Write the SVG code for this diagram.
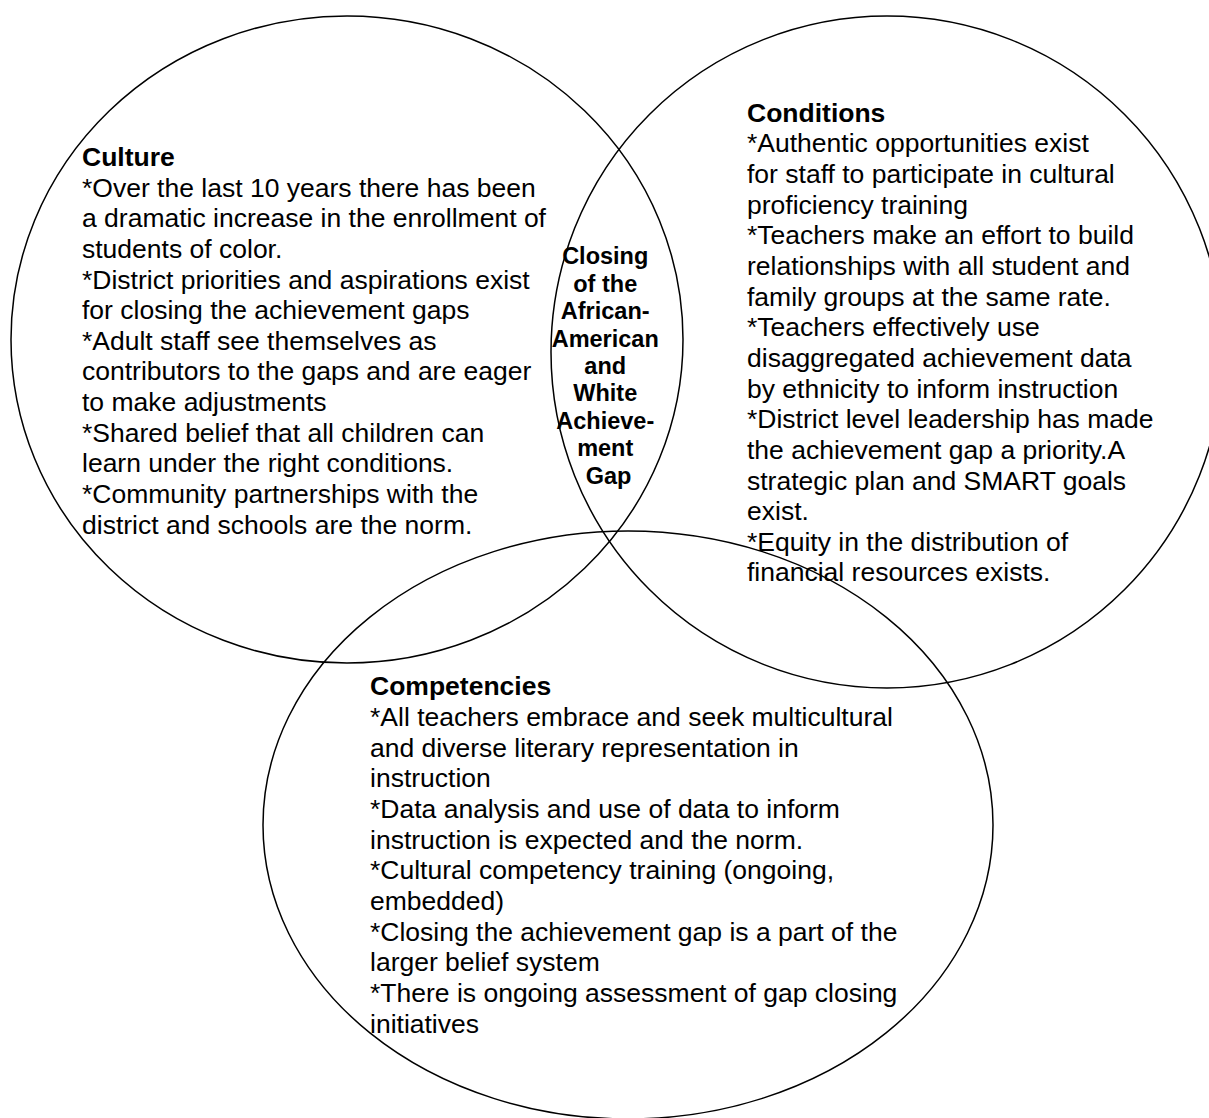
<svg xmlns="http://www.w3.org/2000/svg" width="1209" height="1118" viewBox="0 0 1209 1118">
<style>
.c{fill:none;stroke:#000;stroke-width:1.5}
.t{font-family:"Liberation Sans",Arial,sans-serif;font-size:26.5px;fill:#000}
.h{font-weight:bold}
.m{font-family:"Liberation Sans",Arial,sans-serif;font-size:23.5px;font-weight:bold;fill:#000;text-anchor:middle}
</style>
<rect width="1209" height="1118" fill="#fff"/>
<g id="culture">
<ellipse class="c" cx="347" cy="339.5" rx="336" ry="323.5"/>
<text class="t" x="82">
<tspan class="h" x="82" y="166">Culture</tspan>
<tspan x="82" y="196.5">*Over the last 10 years there has been</tspan>
<tspan x="82" y="227.2">a dramatic increase in the enrollment of</tspan>
<tspan x="82" y="257.8">students of color.</tspan>
<tspan x="82" y="288.5">*District priorities and aspirations exist</tspan>
<tspan x="82" y="319.1">for closing the achievement gaps</tspan>
<tspan x="82" y="349.8">*Adult staff see themselves as</tspan>
<tspan x="82" y="380.4">contributors to the gaps and are eager</tspan>
<tspan x="82" y="411.1">to make adjustments</tspan>
<tspan x="82" y="441.7">*Shared belief that all children can</tspan>
<tspan x="82" y="472.4">learn under the right conditions.</tspan>
<tspan x="82" y="503">*Community partnerships with the</tspan>
<tspan x="82" y="533.7">district and schools are the norm.</tspan>
</text>
</g>
<g id="conditions">
<ellipse class="c" cx="887" cy="352" rx="336" ry="336"/>
<text class="t">
<tspan class="h" x="747" y="121.7">Conditions</tspan>
<tspan x="747" y="152.3">*Authentic opportunities exist</tspan>
<tspan x="747" y="183">for staff to participate in cultural</tspan>
<tspan x="747" y="213.6">proficiency training</tspan>
<tspan x="747" y="244.3">*Teachers make an effort to build</tspan>
<tspan x="747" y="274.9">relationships with all student and</tspan>
<tspan x="747" y="305.6">family groups at the same rate.</tspan>
<tspan x="747" y="336.2">*Teachers effectively use</tspan>
<tspan x="747" y="366.9">disaggregated achievement data</tspan>
<tspan x="747" y="397.5">by ethnicity to inform instruction</tspan>
<tspan x="747" y="428.2">*District level leadership has made</tspan>
<tspan x="747" y="458.8">the achievement gap a priority.A</tspan>
<tspan x="747" y="489.5">strategic plan and SMART goals</tspan>
<tspan x="747" y="520.1">exist.</tspan>
<tspan x="747" y="550.8">*Equity in the distribution of</tspan>
<tspan x="747" y="581.4">financial resources exists.</tspan>
</text>
</g>
<g id="competencies">
<ellipse class="c" cx="628" cy="825" rx="365" ry="294"/>
<text class="t">
<tspan class="h" x="370" y="695">Competencies</tspan>
<tspan x="370" y="726">*All teachers embrace and seek multicultural</tspan>
<tspan x="370" y="756.7">and diverse literary representation in</tspan>
<tspan x="370" y="787.3">instruction</tspan>
<tspan x="370" y="818">*Data analysis and use of data to inform</tspan>
<tspan x="370" y="848.6">instruction is expected and the norm.</tspan>
<tspan x="370" y="879.3">*Cultural competency training (ongoing,</tspan>
<tspan x="370" y="909.9">embedded)</tspan>
<tspan x="370" y="940.6">*Closing the achievement gap is a part of the</tspan>
<tspan x="370" y="971.2">larger belief system</tspan>
<tspan x="370" y="1001.9">*There is ongoing assessment of gap closing</tspan>
<tspan x="370" y="1032.5">initiatives</tspan>
</text>
</g>
<g id="center">
<text class="m">
<tspan x="608.5" y="264.3">Closing</tspan>
<tspan x="608.5" y="291.7">of the</tspan>
<tspan x="608.5" y="319.1">African-</tspan>
<tspan x="608.5" y="346.5">American</tspan>
<tspan x="608.5" y="373.9">and</tspan>
<tspan x="608.5" y="401.3">White</tspan>
<tspan x="608.5" y="428.7">Achieve-</tspan>
<tspan x="608.5" y="456.1">ment</tspan>
<tspan x="608.5" y="483.5">Gap</tspan>
</text>
</g>
<g id="connectors"/>
</svg>
